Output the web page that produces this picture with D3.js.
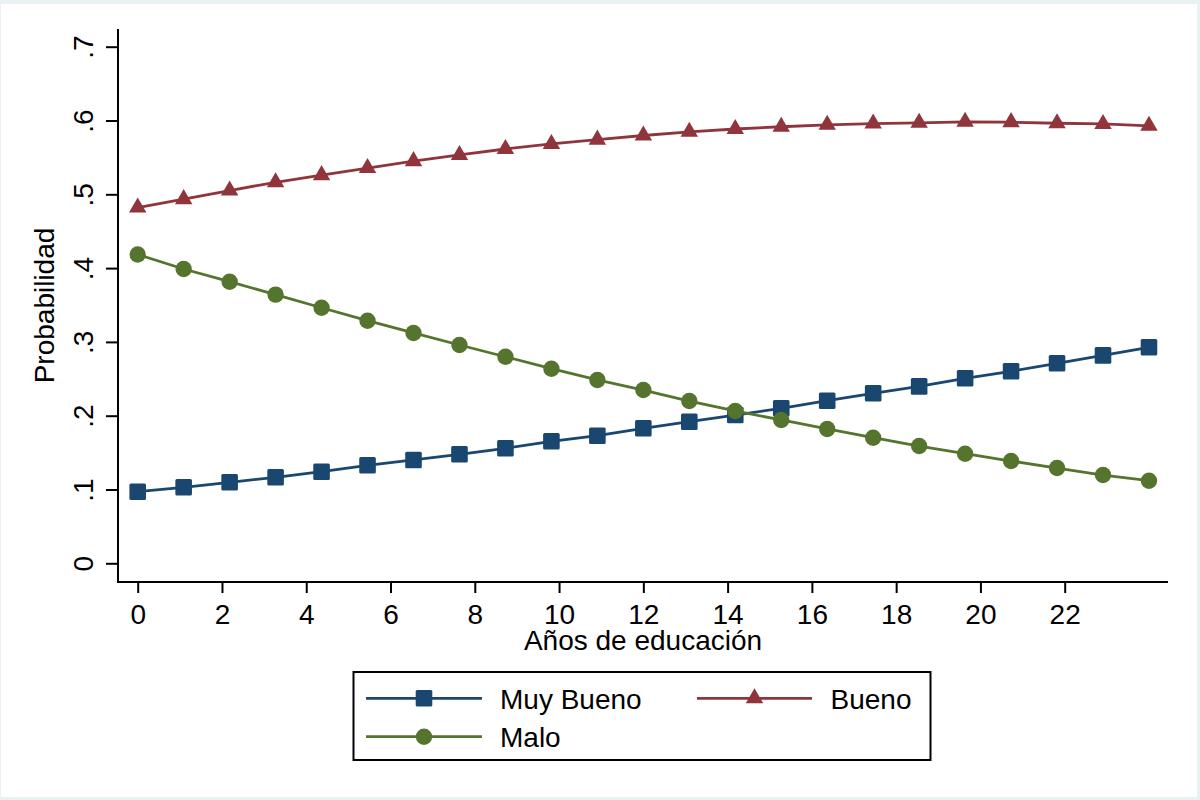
<!DOCTYPE html>
<html>
<head>
<meta charset="utf-8">
<script src="https://cdn.jsdelivr.net/npm/d3@7"></script>
<style>
  html, body { margin: 0; padding: 0; background: #eaf1f3; }
  svg { display: block; }
  text { font-family: "Liberation Sans", Arial, sans-serif; font-size: 28px; fill: #000; }
</style>
</head>
<body>
<svg id="chart" width="1200" height="800"></svg>
<script>
// ---- Data ----
const xValues = [0, 1.0909, 2.1818, 3.2727, 4.3636, 5.4545, 6.5455, 7.6364, 8.7273, 9.8182, 10.9091,
                 12.0000, 13.0909, 14.1818, 15.2727, 16.3636, 17.4545, 18.5455, 19.6364, 20.7273, 21.8182, 22.9091, 24.0000];
const muyBueno = [0.0970, 0.1030, 0.1098, 0.1165, 0.1241, 0.1328, 0.1400, 0.1477, 0.1558, 0.1653, 0.1729,
                  0.1829, 0.1919, 0.2009, 0.2100, 0.2203, 0.2304, 0.2398, 0.2507, 0.2602, 0.2710, 0.2818, 0.2927];
const bueno =    [0.4821, 0.4934, 0.5051, 0.5163, 0.5259, 0.5356, 0.5449, 0.5533, 0.5614, 0.5682, 0.5740,
                  0.5797, 0.5847, 0.5885, 0.5915, 0.5942, 0.5959, 0.5969, 0.5982, 0.5977, 0.5963, 0.5953, 0.5928];
const malo =     [0.4184, 0.3988, 0.3816, 0.3640, 0.3463, 0.3287, 0.3121, 0.2958, 0.2799, 0.2637, 0.2484,
                  0.2348, 0.2199, 0.2064, 0.1942, 0.1820, 0.1702, 0.1589, 0.1485, 0.1386, 0.1291, 0.1196, 0.1119];
const xTicks = [0, 2, 4, 6, 8, 10, 12, 14, 16, 18, 20, 22];
const yTicks = [0, 0.1, 0.2, 0.3, 0.4, 0.5, 0.6, 0.7];
const seriesNames = ["Muy Bueno", "Bueno", "Malo"];
const xTitle = "Años de educación";
const yTitle = "Probabilidad";

// ---- Setup ----
const svg = d3.select("#chart");
const colors = { "Muy Bueno": "#1a476f", "Bueno": "#90353b", "Malo": "#55752f" };
const symbols = { "Muy Bueno": "square", "Bueno": "triangle", "Malo": "circle" };

svg.append("rect").attr("x", 1).attr("y", 4).attr("width", 1196).attr("height", 793).attr("fill", "#fff");

const plot = { left: 118, right: 1168, top: 29, bottom: 582 };
const x = d3.scaleLinear().domain([0, 22]).range([137.7, 1064.7]);
const y = d3.scaleLinear().domain([0, 0.7]).range([563.3, 46.7]);

// ---- Axes ----
const yAxis = d3.axisLeft(y).tickValues(yTicks).tickSize(12).tickSizeOuter(0)
  .tickFormat(d => d === 0 ? "0" : d3.format(".1f")(d).replace(/^0/, ""));
const gy = svg.append("g").attr("transform", `translate(${plot.left},0)`).call(yAxis);
gy.select(".domain").remove();
gy.selectAll(".tick line").attr("stroke", "#000").attr("stroke-width", 2);
gy.selectAll(".tick text")
  .attr("x", 0).attr("y", -25).attr("dy", 0)
  .attr("transform", "rotate(-90)")
  .attr("text-anchor", "middle")
  .style("font-size", "28px").style("font-family", "Liberation Sans, Arial, sans-serif");
gy.attr("font-size", null).attr("font-family", null);

const xAxis = d3.axisBottom(x).tickValues(xTicks).tickSize(11).tickSizeOuter(0).tickFormat(d3.format("d"));
const gx = svg.append("g").attr("transform", `translate(0,${plot.bottom})`).call(xAxis);
gx.select(".domain").remove();
gx.selectAll(".tick line").attr("stroke", "#000").attr("stroke-width", 2);
gx.selectAll(".tick text").attr("y", 41.5).attr("dy", 0)
  .style("font-size", "28px").style("font-family", "Liberation Sans, Arial, sans-serif");
gx.attr("font-size", null).attr("font-family", null);

svg.append("line").attr("x1", plot.left).attr("x2", plot.left).attr("y1", plot.top).attr("y2", plot.bottom + 1)
  .attr("stroke", "#000").attr("stroke-width", 2);
svg.append("line").attr("x1", plot.left - 1).attr("x2", plot.right).attr("y1", plot.bottom).attr("y2", plot.bottom)
  .attr("stroke", "#000").attr("stroke-width", 2);

svg.append("text").attr("x", 643).attr("y", 650).attr("text-anchor", "middle").text(xTitle);
svg.append("text").attr("transform", `translate(53.5,${(plot.top + plot.bottom) / 2}) rotate(-90)`)
  .attr("text-anchor", "middle").text(yTitle);

// ---- Markers ----
function drawMarker(g, type, cx, cy, color) {
  if (type === "square") {
    g.append("rect").attr("x", cx - 8.3).attr("y", cy - 8.3).attr("width", 16.6).attr("height", 16.6)
      .attr("rx", 1.5).attr("fill", color);
  } else if (type === "circle") {
    g.append("circle").attr("cx", cx).attr("cy", cy).attr("r", 8.2).attr("fill", color);
  } else {
    const sym = d3.symbol().type(d3.symbolTriangle).size(132);
    g.append("path").attr("d", sym()).attr("transform", `translate(${cx},${cy})`).attr("fill", color);
  }
}

// ---- Series ----
const seriesData = { "Muy Bueno": muyBueno, "Bueno": bueno, "Malo": malo };
const drawOrder = ["Muy Bueno", "Bueno", "Malo"];
const line = d3.line().x(d => x(d[0])).y(d => y(d[1]));
drawOrder.forEach(name => {
  const pts = xValues.map((xv, i) => [xv, seriesData[name][i]]);
  const g = svg.append("g");
  g.append("path").attr("d", line(pts)).attr("fill", "none")
    .attr("stroke", colors[name]).attr("stroke-width", 2.8);
  pts.forEach(p => drawMarker(g, symbols[name], x(p[0]), y(p[1]), colors[name]));
});

// ---- Legend ----
const lg = svg.append("g");
lg.append("rect").attr("x", 353.5).attr("y", 672).attr("width", 577).attr("height", 88)
  .attr("fill", "#fff").attr("stroke", "#000").attr("stroke-width", 2);
const legendPos = [
  { name: "Muy Bueno", x0: 366, x1: 482, tx: 500, cy: 698.3 },
  { name: "Bueno", x0: 697, x1: 812, tx: 830.5, cy: 698.3 },
  { name: "Malo", x0: 366, x1: 482, tx: 500, cy: 736.7 }
];
legendPos.forEach(l => {
  lg.append("line").attr("x1", l.x0).attr("x2", l.x1).attr("y1", l.cy).attr("y2", l.cy)
    .attr("stroke", colors[l.name]).attr("stroke-width", 2.8);
  drawMarker(lg, symbols[l.name], (l.x0 + l.x1) / 2, l.cy, colors[l.name]);
  lg.append("text").attr("x", l.tx).attr("y", l.cy + 10.5).text(l.name);
});
</script>
</body>
</html>
